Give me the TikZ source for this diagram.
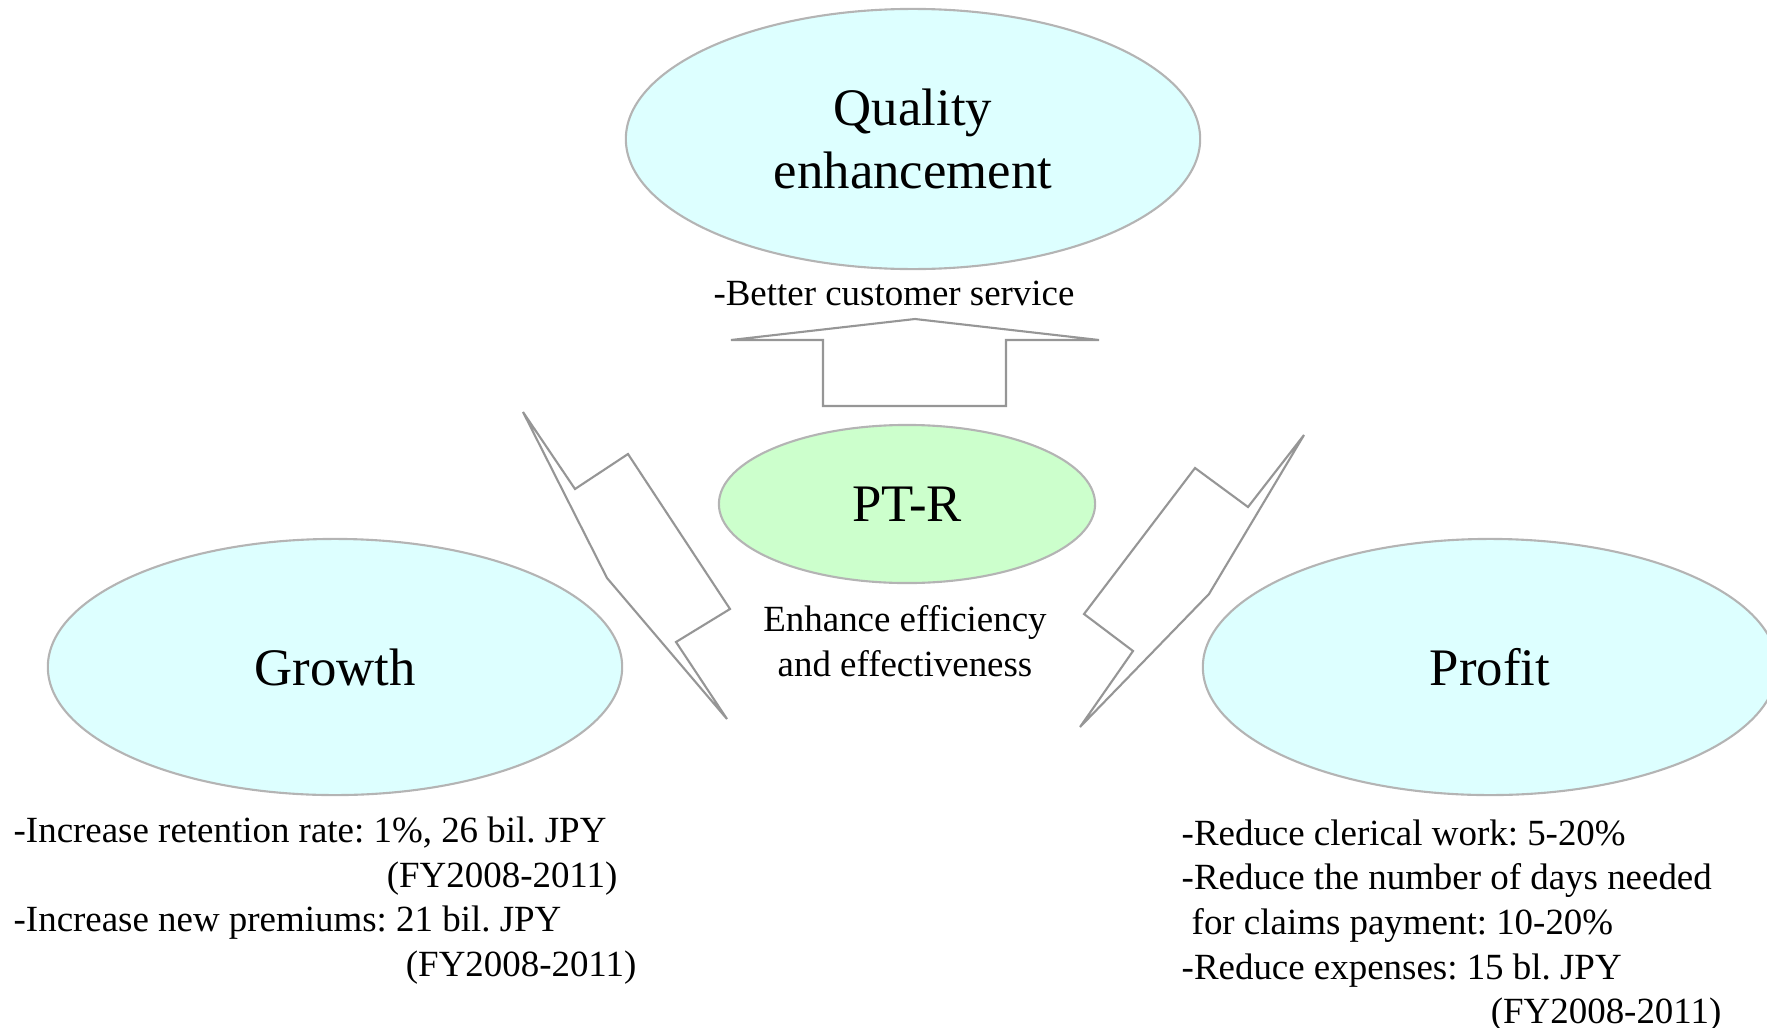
\documentclass[tikz,border=0pt]{standalone}
\usepackage{fontspec}
\setmainfont{Liberation Serif}
\usetikzlibrary{shapes.geometric,positioning}
\definecolor{goalfill}{RGB}{221,255,255}
\definecolor{corefill}{RGB}{204,255,204}
\definecolor{rimgray}{RGB}{180,180,180}
\definecolor{boltgray}{RGB}{150,150,150}
\frenchspacing
\tikzset{
  goal/.style={
    ellipse,
    draw=rimgray, line width=0.6pt,
    fill=goalfill,
    inner sep=0pt,
    minimum width=5.74cm,
    minimum height=2.56cm,
    font=\fontsize{15}{18}\selectfont,
    align=center},
  core/.style={goal, fill=corefill, minimum width=3.76cm, minimum height=1.58cm},
  note/.style={inner sep=0pt, font=\fontsize{10.5}{12.7}\selectfont},
  bolt/.style={draw=boltgray, line width=0.6pt, line join=miter},
}
\begin{document}
\begin{tikzpicture}[x=0.01cm, y=-0.01cm]
  \useasboundingbox (0,0) rectangle (1767,1027);
  \node[goal, minimum height=2.6cm] (quality) at (913,139) {Quality\\enhancement};
  \node[core] (ptr) at (907,504) {PT-R};
  \node[goal] (growth) at (335,667) {Growth};
  \node[goal] (profit) at (1490,667) {Profit};

  \node[note] (better) at (894,293) {-Better customer service};
  \node[note, align=center] (enhance) at (905,641) {Enhance efficiency\\and effectiveness};
  \node[note, align=left, anchor=north west] (growthnote) at (13,816)
    {-Increase retention rate: 1\%, 26 bil. JPY\\
     \hspace*{3.73cm}(FY2008-2011)\\
     -Increase new premiums: 21 bil. JPY\\
     \hspace*{3.92cm}(FY2008-2011)};
  \node[note, align=left, anchor=north west] (profitnote) at (1181,819)
    {-Reduce clerical work: 5-20\%\\
     -Reduce the number of days needed\\
     \hspace*{0.1cm}for claims payment: 10-20\%\\
     -Reduce expenses: 15 bl. JPY\\
     \hspace*{3.09cm}(FY2008-2011)};

  % block arrow up to quality
  \draw[bolt] (823,406) -- (823,340) -- (731,340) -- (915,319) -- (1099,340)
    -- (1006,340) -- (1006,406) -- cycle;
  % lightning bolts
  \draw[bolt] (523,412) -- (575,489) -- (628,454) -- (730,609) -- (676,642)
    -- (727,719) -- (607,578) -- cycle;
  \draw[bolt] (1304,435) -- (1248,507) -- (1195,468) -- (1084,614) -- (1133,651)
    -- (1080,727) -- (1209,594) -- cycle;
\end{tikzpicture}
\end{document}
